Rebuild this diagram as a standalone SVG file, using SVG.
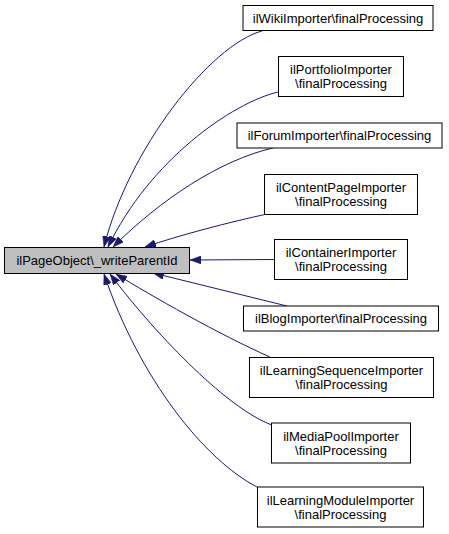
<svg xmlns="http://www.w3.org/2000/svg" width="449" height="534" viewBox="0 0 449 534">
<style>
  .node rect { fill: #ffffff; stroke: #000000; stroke-width: 1; }
  .node.main rect { fill: #bfbfbf; }
  .node text { font-family: "Liberation Sans", Arial, sans-serif; font-size: 13px; fill: #000000; text-anchor: middle; }
  .edges path { fill: none; stroke: #191970; stroke-width: 1; marker-end: url(#arrow); }
</style>
<defs>
  <marker id="arrow" markerUnits="userSpaceOnUse" viewBox="0 0 11 8" refX="11" refY="4" markerWidth="11" markerHeight="8" orient="auto">
    <path d="M0,0 L11,4 L0,8 z" fill="#191970" stroke="#191970" stroke-width="0.5"/>
  </marker>
</defs>
<rect width="449" height="534" fill="#ffffff"/>
<g class="edges" id="edges">
  <path d="M262,31 C210,45 128,150 104,247"/>
  <path d="M278,92 C232,103 150,160 108,247"/>
  <path d="M273,148 C220,160 160,200 113,247"/>
  <path d="M267,214 C230,222 180,235 145,247"/>
  <path d="M274,259.5 L190,260"/>
  <path d="M287,306 L153,273"/>
  <path d="M270,357 C220,335 150,295 116,274"/>
  <path d="M272,425 C230,410 160,340 110,274"/>
  <path d="M257,487 C205,460 140,380 104,274"/>
</g>
<g class="node main" id="node-main">
  <rect x="4.5" y="247.5" width="185" height="26"/>
  <text x="97" y="265">ilPageObject\_writeParentId</text>
</g>
<g class="node" id="node-wiki">
  <rect x="243" y="5.5" width="190" height="25"/>
  <text x="338" y="22.5">ilWikiImporter\finalProcessing</text>
</g>
<g class="node" id="node-portfolio">
  <rect x="278.5" y="56.5" width="125" height="40"/>
  <text x="341" y="74">ilPortfolioImporter</text>
  <text x="341" y="88">\finalProcessing</text>
</g>
<g class="node" id="node-forum">
  <rect x="237" y="123" width="205" height="25"/>
  <text x="339.5" y="140">ilForumImporter\finalProcessing</text>
</g>
<g class="node" id="node-contentpage">
  <rect x="264.5" y="174.5" width="153" height="40"/>
  <text x="341" y="192">ilContentPageImporter</text>
  <text x="341" y="206">\finalProcessing</text>
</g>
<g class="node" id="node-container">
  <rect x="274.5" y="239.5" width="133" height="40"/>
  <text x="341" y="257">ilContainerImporter</text>
  <text x="341" y="271">\finalProcessing</text>
</g>
<g class="node" id="node-blog">
  <rect x="243.5" y="306" width="195" height="25"/>
  <text x="341" y="323">ilBlogImporter\finalProcessing</text>
</g>
<g class="node" id="node-learningsequence">
  <rect x="249.5" y="357.5" width="184" height="40"/>
  <text x="341.5" y="375">ilLearningSequenceImporter</text>
  <text x="341.5" y="389">\finalProcessing</text>
</g>
<g class="node" id="node-mediapool">
  <rect x="271.5" y="423" width="139" height="40"/>
  <text x="341" y="440.5">ilMediaPoolImporter</text>
  <text x="341" y="454.5">\finalProcessing</text>
</g>
<g class="node" id="node-learningmodule">
  <rect x="257.5" y="487" width="166" height="40"/>
  <text x="340.5" y="504.5">ilLearningModuleImporter</text>
  <text x="340.5" y="518.5">\finalProcessing</text>
</g>
</svg>
